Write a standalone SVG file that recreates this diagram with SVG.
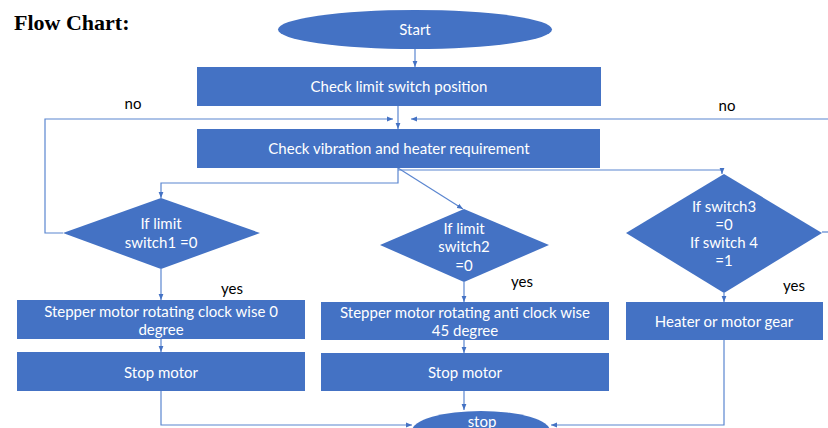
<svg xmlns="http://www.w3.org/2000/svg" width="828" height="428" viewBox="0 0 828 428">
<defs>
<marker id="ah" viewBox="0 0 10 10" refX="10" refY="5" markerWidth="6" markerHeight="6" markerUnits="userSpaceOnUse" orient="auto">
<path d="M0,1 L10,5 L0,9 z" fill="#4472C4"/>
</marker>
</defs>
<style>
.n{fill:#4472C4}
.t{font-family:Lato,"Open Sans",sans-serif;font-size:15px;fill:#ffffff;text-anchor:middle}
.l{font-family:Lato,"Open Sans",sans-serif;font-size:15px;fill:#000000;text-anchor:middle}
.c{fill:none;stroke:#5B86D0;stroke-width:1.2}
.a{marker-end:url(#ah)}
</style>
<rect width="828" height="428" fill="#ffffff"/>
<text x="14" y="30" font-family="Liberation Serif, serif" font-weight="bold" font-size="22" fill="#000">Flow Chart:</text>

<g id="connectors">
<path class="c a" d="M415,49 V67"/>
<path class="c a" d="M398,106 V129"/>
<path class="c a" d="M63,233 H45 V119 H393"/>
<path class="c a" d="M828,119 H411"/>
<path class="c a" d="M398,168 V183 H161 V198"/>
<path class="c a" d="M398,170 H722 V174"/>
<path class="c a" d="M398,168 L463,209"/>
<path class="c" d="M822,232 H828"/>
<path class="c a" d="M161,269 V300"/>
<path class="c a" d="M161,339 V352"/>
<path class="c a" d="M464,282 V302"/>
<path class="c a" d="M464,340 V353"/>
<path class="c a" d="M464,391 V410"/>
<path class="c a" d="M724,293 V302"/>
<path class="c a" d="M161,391 V425 H412"/>
<path class="c a" d="M724,340 V425 H551"/>
</g>

<g id="start"><ellipse class="n" cx="415" cy="29.5" rx="137" ry="19.5"/><text class="t" x="415" y="35">Start</text></g>
<g id="check-limit"><rect class="n" x="197" y="67" width="404" height="39"/><text class="t" x="399" y="92">Check limit switch position</text></g>
<g id="check-vibration"><rect class="n" x="197" y="129" width="403" height="39"/><text class="t" x="399" y="154">Check vibration and heater requirement</text></g>

<g id="diamond1"><path class="n" d="M161,198 L260,233 L161,269 L63,233 z"/><text class="t" x="161" y="229">If limit</text><text class="t" x="161" y="248">switch1 =0</text></g>
<g id="diamond2"><path class="n" d="M464,209 L549,245 L464,282 L380,245 z"/><text class="t" x="464" y="234">If limit</text><text class="t" x="464" y="252">switch2</text><text class="t" x="464" y="271">=0</text></g>
<g id="diamond3"><path class="n" d="M724,174 L822,233 L724,293 L626,233 z"/><text class="t" x="724" y="212">If switch3</text><text class="t" x="724" y="230">=0</text><text class="t" x="724" y="248">If switch 4</text><text class="t" x="724" y="266">=1</text></g>

<g id="step-cw"><rect class="n" x="17" y="300" width="288" height="39"/><text class="t" x="161" y="317">Stepper motor rotating clock wise 0</text><text class="t" x="161" y="335">degree</text></g>
<g id="stop-motor1"><rect class="n" x="17" y="352" width="288" height="39"/><text class="t" x="161" y="378">Stop motor</text></g>
<g id="step-acw"><rect class="n" x="321" y="302" width="288" height="38"/><text class="t" x="465" y="318">Stepper motor rotating anti clock wise</text><text class="t" x="465" y="336">45 degree</text></g>
<g id="stop-motor2"><rect class="n" x="321" y="353" width="288" height="38"/><text class="t" x="465" y="378">Stop motor</text></g>
<g id="heater"><rect class="n" x="626" y="302" width="197" height="38"/><text class="t" x="724" y="327">Heater or motor gear</text></g>
<g id="stop"><ellipse class="n" cx="481" cy="431" rx="69" ry="20"/><text class="t" x="482" y="427">stop</text></g>

<g id="labels">
<text class="l" x="133" y="109">no</text>
<text class="l" x="727" y="111">no</text>
<text class="l" x="232" y="294">yes</text>
<text class="l" x="522" y="287">yes</text>
<text class="l" x="794" y="291">yes</text>
</g>
</svg>
